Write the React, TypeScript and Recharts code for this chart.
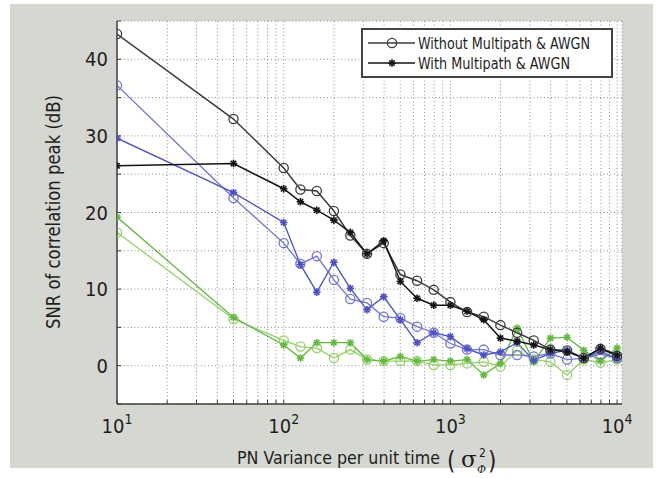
import React from 'react';
import { LineChart, Line, XAxis, YAxis, CartesianGrid, Legend, Label } from 'recharts';

const FONT = "'Liberation Sans Narrow', 'DejaVu Sans Condensed', 'Arial Narrow', sans-serif";
const SERIF = "'DejaVu Serif', 'Liberation Serif', serif";

const xValues = [10, 50, 100, 126, 158, 200, 251, 316, 398, 501, 631, 794, 1000, 1259, 1585, 1995, 2512, 3162, 3981, 5012, 6310, 7943, 10000];

const blackWithout = [43.3, 32.2, 25.8, 23.0, 22.8, 20.2, 17.0, 14.6, 16.0, 11.9, 11.1, 9.9, 8.3, 7.0, 6.4, 5.3, 4.3, 3.3, 2.1, 2.0, 1.0, 2.2, 1.3];
const blackWith = [26.1, 26.4, 23.1, 21.4, 20.3, 19.0, 17.4, 14.6, 16.3, 11.0, 8.8, 7.9, 7.9, 7.1, 6.0, 3.6, 3.2, 2.7, 2.1, 1.8, 1.0, 2.3, 1.4];
const blueCircle = [36.6, 21.9, 16.0, 13.3, 14.3, 11.2, 8.7, 8.2, 6.4, 6.2, 5.1, 4.3, 2.9, 2.1, 2.1, 1.4, 1.4, 1.2, 1.6, 0.8, 1.0, 1.5, 1.0];
const blueStar = [29.7, 22.6, 18.7, 13.2, 9.6, 13.5, 10.1, 7.3, 9.0, 6.0, 3.0, 4.3, 3.8, 2.2, 1.4, 1.8, 3.0, 0.7, 1.6, 2.0, 0.9, 1.9, 0.9];
const greenCircle = [17.4, 6.1, 3.3, 2.5, 2.3, 1.0, 2.1, 0.8, 0.6, 0.6, 0.6, 0.1, 0.1, 0.3, 0.5, -0.1, 2.0, 0.8, 0.5, -1.2, 0.8, 0.4, 0.8];
const greenStar = [19.4, 6.3, 2.7, 1.0, 3.0, 3.0, 3.0, 0.8, 0.6, 1.2, 0.6, 0.8, 0.6, 0.8, -1.2, 0.3, 4.9, 0.5, 3.6, 3.7, 2.0, 0.6, 2.3];

const xTicks = [10, 20, 30, 40, 50, 60, 70, 80, 90, 100, 200, 300, 400, 500, 600, 700, 800, 900, 1000, 2000, 3000, 4000, 5000, 6000, 7000, 8000, 9000, 10000];
const yTicks = [-5, 0, 5, 10, 15, 20, 25, 30, 35, 40, 45];
const yLabeled = [0, 10, 20, 30, 40];
const legendLabels = ['Without Multipath & AWGN', 'With Multipath & AWGN'];

const data = xValues.map((x, i) => ({
  x,
  blackWithout: blackWithout[i],
  blackWith: blackWith[i],
  blueCircle: blueCircle[i],
  blueStar: blueStar[i],
  greenCircle: greenCircle[i],
  greenStar: greenStar[i],
}));

const C = {
  blackWithout: '#3c3c3c',
  blackWith: '#141414',
  blueCircle: '#6f73d2',
  blueStar: '#4b51c2',
  greenCircle: '#93d166',
  greenStar: '#62b83e',
};

const circleDot = (color: string) => (props: any) => {
  const { cx, cy, index } = props;
  if (cx == null || cy == null) return <g key={index} />;
  return <circle key={index} cx={cx} cy={cy} r={4.6} fill="none" stroke={color} strokeWidth={1.3} />;
};

const starDot = (color: string) => (props: any) => {
  const { cx, cy, index } = props;
  if (cx == null || cy == null) return <g key={index} />;
  const s = 3.8;
  const d = 2.7;
  return (
    <g key={index} stroke={color} strokeWidth={1.6}>
      <line x1={cx - s} y1={cy} x2={cx + s} y2={cy} />
      <line x1={cx} y1={cy - s} x2={cx} y2={cy + s} />
      <line x1={cx - d} y1={cy - d} x2={cx + d} y2={cy + d} />
      <line x1={cx - d} y1={cy + d} x2={cx + d} y2={cy - d} />
    </g>
  );
};

const XTick = (props: any) => {
  const { x, y, payload } = props;
  const v = payload.value;
  const e = Math.round(Math.log10(v));
  if (Math.abs(Math.pow(10, e) - v) > 1e-6) return <g />;
  return (
    <text x={x} y={y + 29} textAnchor="middle" fontSize={20} fill="#1e1e1e" fontFamily={FONT}>
      10<tspan dy={-9} fontSize={14}>{e}</tspan>
    </text>
  );
};

const YTick = (props: any) => {
  const { x, y, payload } = props;
  const v = payload.value;
  if (!yLabeled.includes(v)) return <g />;
  return (
    <text x={x} y={y + 7} textAnchor="end" fontSize={20} fill="#1e1e1e" fontFamily={FONT}>
      {v}
    </text>
  );
};

const XTitle = (props: any) => {
  return (
    <g fill="#1e1e1e">
      <text x={227} y={460} fontSize={17.5} textLength={203} lengthAdjust="spacingAndGlyphs" fontFamily={FONT}>
        PN Variance per unit time
      </text>
      <text x={437} y={465} fontSize={24} fontFamily={FONT}>(</text>
      <text x={451} y={463} fontSize={23} fontFamily={SERIF}>σ</text>
      <text x={469} y={453} fontSize={12} fontFamily={FONT}>2</text>
      <text x={467} y={469} fontSize={11} fontStyle="italic" fontFamily={SERIF}>Φ</text>
      <text x={478} y={465} fontSize={24} fontFamily={FONT}>)</text>
    </g>
  );
};

const YTitle = (props: any) => {
  const cx = 43;
  const cy = 208;
  return (
    <text
      x={cx}
      y={cy}
      transform={`rotate(-90 ${cx} ${cy})`}
      textAnchor="middle"
      dominantBaseline="central"
      fontSize={20}
      textLength={234}
      lengthAdjust="spacingAndGlyphs"
      fill="#1e1e1e"
      fontFamily={FONT}
    >
      SNR of correlation peak (dB)
    </text>
  );
};

const LegendBox = () => {
  const rows = [
    { label: legendLabels[0], color: C.blackWithout, kind: 'circle', len: 172 },
    { label: legendLabels[1], color: C.blackWith, kind: 'star', len: 152 },
  ];
  return (
    <svg width={252} height={50} style={{ display: 'block' }}>
      <rect x={1} y={1} width={250} height={48} fill="#fff" stroke="#444" strokeWidth={2} />
      {rows.map((r, i) => {
        const y = 15 + i * 20;
        return (
          <g key={i}>
            <line x1={7} y1={y} x2={54} y2={y} stroke={r.color} strokeWidth={1.5} />
            {r.kind === 'circle'
              ? circleDot(r.color)({ cx: 31, cy: y, index: 0 })
              : starDot(r.color)({ cx: 31, cy: y, index: 0 })}
            <text x={57} y={y + 6} fontSize={16} textLength={r.len} lengthAdjust="spacingAndGlyphs" fill="#1e1e1e" fontFamily={FONT}>
              {r.label}
            </text>
          </g>
        );
      })}
    </svg>
  );
};

export default function App() {
  return (
    <div style={{ position: 'absolute', left: 10, top: 4, width: 643, height: 464, background: '#d4d8d1' }}>
      <LineChart width={643} height={474} data={data} margin={{ top: 17, right: 31, bottom: 10, left: 0 }}>
        <CartesianGrid fill="#ffffff" stroke="#8e8e8e" strokeDasharray="1 2.5" strokeWidth={1} />
        <XAxis
          dataKey="x"
          type="number"
          scale="log"
          domain={[10, 10700]}
          allowDataOverflow
          ticks={xTicks}
          interval={0}
          height={64}
          tickSize={-4}
          tickMargin={4}
          tick={<XTick />}
          axisLine={{ stroke: '#404040', strokeWidth: 1.5 }}
          tickLine={{ stroke: '#404040' }}
        >
          <Label content={<XTitle />} />
        </XAxis>
        <XAxis
          xAxisId="top"
          orientation="top"
          dataKey="x"
          type="number"
          scale="log"
          domain={[10, 10700]}
          allowDataOverflow
          ticks={xTicks}
          interval={0}
          height={0}
          tickSize={-4}
          tick={false}
          axisLine={{ stroke: '#404040', strokeWidth: 1.5 }}
          tickLine={{ stroke: '#404040' }}
        />
        <YAxis
          type="number"
          domain={[-5, 45]}
          ticks={yTicks}
          interval={0}
          width={107}
          tickSize={-4}
          tickMargin={13}
          tick={<YTick />}
          axisLine={{ stroke: '#404040', strokeWidth: 1.5 }}
          tickLine={{ stroke: '#404040' }}
        >
          <Label content={<YTitle />} />
        </YAxis>
        <YAxis
          yAxisId="right"
          orientation="right"
          type="number"
          domain={[-5, 45]}
          ticks={yTicks}
          interval={0}
          width={0}
          tickSize={-4}
          tick={false}
          axisLine={{ stroke: '#404040', strokeWidth: 1.5 }}
          tickLine={{ stroke: '#404040' }}
        />
        <Legend
          layout="vertical"
          align="center"
          verticalAlign="middle"
          content={<LegendBox />}
          wrapperStyle={{ position: 'absolute', left: 351, top: 24, width: 252, height: 50 }}
        />
        <Line dataKey="greenCircle" stroke={C.greenCircle} strokeWidth={1.3} dot={circleDot(C.greenCircle)} isAnimationActive={false} legendType="none" />
        <Line dataKey="greenStar" stroke={C.greenStar} strokeWidth={1.3} dot={starDot(C.greenStar)} isAnimationActive={false} legendType="none" />
        <Line dataKey="blueCircle" stroke={C.blueCircle} strokeWidth={1.3} dot={circleDot(C.blueCircle)} isAnimationActive={false} legendType="none" />
        <Line dataKey="blueStar" stroke={C.blueStar} strokeWidth={1.3} dot={starDot(C.blueStar)} isAnimationActive={false} legendType="none" />
        <Line dataKey="blackWithout" stroke={C.blackWithout} strokeWidth={1.5} dot={circleDot(C.blackWithout)} isAnimationActive={false} />
        <Line dataKey="blackWith" stroke={C.blackWith} strokeWidth={1.5} dot={starDot(C.blackWith)} isAnimationActive={false} />
      </LineChart>
    </div>
  );
}
